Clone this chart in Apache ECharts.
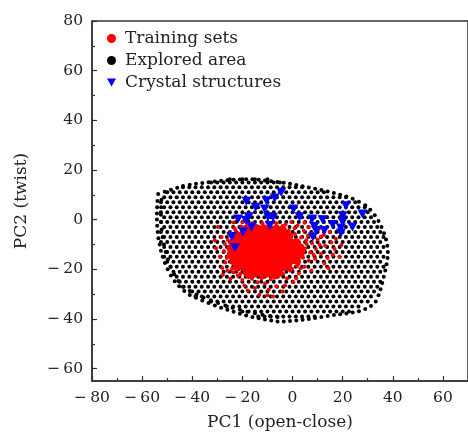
<!DOCTYPE html>
<html>
<head>
<meta charset="utf-8">
<script src="https://cdn.jsdelivr.net/npm/echarts@6/dist/echarts.min.js"></script>
<style>html,body{margin:0;padding:0;background:#fff;}#c{width:468px;height:436px;}</style>
</head>
<body>
<div id="c"></div>
<script>
// ---- tick values ----
const xTicks = [-80, -60, -40, -20, 0, 20, 40, 60];
const xMinorTicks = [-70, -50, -30, -10, 10, 30, 50];
const yTicks = [-60, -40, -20, 0, 20, 40, 60, 80];
const yMinorTicks = [-50, -30, -10, 10, 30, 50, 70];

// ---- Explored area (black): rows of points [y, [x...]] ----
const exploredRows = [
  [16.3, [-25, -20, -15, -10]],
  [15, [-32.5,-30,-27.5,-25,-22.5,-20,-17.5,-15,-12.5,-10,-7.5,-5]],
  [13, [-43.7,-41.2,-38.7,-36.2,-33.7,-31.2,-28.7,-26.2,-23.7,-21.2,-18.7,-16.2,-13.7,-11.2,-8.7,-6.2,-3.7,-1.2,1.3,3.8]],
  [11, [-50,-47.5,-45,-42.5,-40,-37.5,-35,-32.5,-30,-27.5,-25,-22.5,-20,-17.5,-15,-12.5,-10,-7.5,-5,-2.5,0,2.5,5,7.5,10,12.5]],
  [9, [-51.2,-48.7,-46.2,-43.7,-41.2,-38.7,-36.2,-33.7,-31.2,-28.7,-26.2,-23.7,-21.2,-18.7,-16.2,-13.7,-11.2,-8.7,-6.2,-3.7,-1.2,1.3,3.8,6.3,8.8,11.3,13.8,16.3,18.8,21.3]],
  [7, [-52.5,-50,-47.5,-45,-42.5,-40,-37.5,-35,-32.5,-30,-27.5,-25,-22.5,-20,-17.5,-15,-12.5,-10,-7.5,-5,-2.5,0,2.5,5,7.5,10,12.5,15,17.5,20,22.5,25]],
  [5, [-51.2,-48.7,-46.2,-43.7,-41.2,-38.7,-36.2,-33.7,-31.2,-28.7,-26.2,-23.7,-21.2,-18.7,-16.2,-13.7,-11.2,-8.7,-6.2,-3.7,-1.2,1.3,3.8,6.3,8.8,11.3,13.8,16.3,18.8,21.3,23.8,26.3,28.8]],
  [3, [-52.5,-50,-47.5,-45,-42.5,-40,-37.5,-35,-32.5,-30,-27.5,-25,-22.5,-20,-17.5,-15,-12.5,-10,-7.5,-5,-2.5,0,2.5,5,7.5,10,12.5,15,17.5,20,22.5,25,27.5,30]],
  [1, [-51.2,-48.7,-46.2,-43.7,-41.2,-38.7,-36.2,-33.7,-31.2,-28.7,-26.2,-23.7,-21.2,-18.7,-16.2,-13.7,-11.2,-8.7,-6.2,-3.7,-1.2,1.3,3.8,6.3,8.8,11.3,13.8,16.3,18.8,21.3,23.8,26.3,28.8,31.3]],
  [-1, [-52.5,-50,-47.5,-45,-42.5,-40,-37.5,-35,-32.5,-30,-27.5,-25,-22.5,-20,-17.5,-15,-12.5,-10,-7.5,-5,-2.5,0,2.5,5,7.5,10,12.5,15,17.5,20,22.5,25,27.5,30,32.5]],
  [-3, [-51.2,-48.7,-46.2,-43.7,-41.2,-38.7,-36.2,-33.7,-31.2,-28.7,-26.2,-23.7,-21.2,-18.7,-16.2,-13.7,-11.2,-8.7,-6.2,-3.7,-1.2,1.3,3.8,6.3,8.8,11.3,13.8,16.3,18.8,21.3,23.8,26.3,28.8,31.3,33.8]],
  [-5, [-52.5,-50,-47.5,-45,-42.5,-40,-37.5,-35,-32.5,-30,-27.5,-25,-22.5,-20,-2.5,0,2.5,5,7.5,10,12.5,15,17.5,20,22.5,25,27.5,30,32.5,35]],
  [-7, [-51.2,-48.7,-46.2,-43.7,-41.2,-38.7,-36.2,-33.7,-31.2,-28.7,-26.2,-23.7,1.3,3.8,6.3,8.8,11.3,13.8,16.3,18.8,21.3,23.8,26.3,28.8,31.3,33.8,36.3]],
  [-9, [-52.5,-50,-47.5,-45,-42.5,-40,-37.5,-35,-32.5,-30,-27.5,-25,2.5,5,7.5,10,12.5,15,17.5,20,22.5,25,27.5,30,32.5,35]],
  [-11, [-51.2,-48.7,-46.2,-43.7,-41.2,-38.7,-36.2,-33.7,-31.2,-28.7,-26.2,3.8,6.3,8.8,11.3,13.8,16.3,18.8,21.3,23.8,26.3,28.8,31.3,33.8,36.3]],
  [-13, [-50,-47.5,-45,-42.5,-40,-37.5,-35,-32.5,-30,-27.5,5,7.5,10,12.5,15,17.5,20,22.5,25,27.5,30,32.5,35]],
  [-15, [-51.2,-48.7,-46.2,-43.7,-41.2,-38.7,-36.2,-33.7,-31.2,-28.7,-26.2,3.8,6.3,8.8,11.3,13.8,16.3,18.8,21.3,23.8,26.3,28.8,31.3,33.8,36.3]],
  [-17, [-50,-47.5,-45,-42.5,-40,-37.5,-35,-32.5,-30,-27.5,-25,2.5,5,7.5,10,12.5,15,17.5,20,22.5,25,27.5,30,32.5,35]],
  [-19, [-48.7,-46.2,-43.7,-41.2,-38.7,-36.2,-33.7,-31.2,-28.7,-26.2,-23.7,1.3,3.8,6.3,8.8,11.3,13.8,16.3,18.8,21.3,23.8,26.3,28.8,31.3,33.8,36.3]],
  [-21, [-47.5,-45,-42.5,-40,-37.5,-35,-32.5,-30,-27.5,-25,-22.5,-20,-2.5,0,2.5,5,7.5,10,12.5,15,17.5,20,22.5,25,27.5,30,32.5,35]],
  [-23, [-46.2,-43.7,-41.2,-38.7,-36.2,-33.7,-31.2,-28.7,-26.2,-23.7,-21.2,-18.7,-16.2,-13.7,-11.2,-8.7,-6.2,-3.7,-1.2,1.3,3.8,6.3,8.8,11.3,13.8,16.3,18.8,21.3,23.8,26.3,28.8,31.3,33.8]],
  [-25, [-45,-42.5,-40,-37.5,-35,-32.5,-30,-27.5,-25,-22.5,-20,-17.5,-15,-12.5,-10,-7.5,-5,-2.5,0,2.5,5,7.5,10,12.5,15,17.5,20,22.5,25,27.5,30,32.5,35]],
  [-27, [-43.7,-41.2,-38.7,-36.2,-33.7,-31.2,-28.7,-26.2,-23.7,-21.2,-18.7,-16.2,-13.7,-11.2,-8.7,-6.2,-3.7,-1.2,1.3,3.8,6.3,8.8,11.3,13.8,16.3,18.8,21.3,23.8,26.3,28.8,31.3,33.8]],
  [-29, [-40,-37.5,-35,-32.5,-30,-27.5,-25,-22.5,-20,-17.5,-15,-12.5,-10,-7.5,-5,-2.5,0,2.5,5,7.5,10,12.5,15,17.5,20,22.5,25,27.5,30,32.5]],
  [-31, [-38.7,-36.2,-33.7,-31.2,-28.7,-26.2,-23.7,-21.2,-18.7,-16.2,-13.7,-11.2,-8.7,-6.2,-3.7,-1.2,1.3,3.8,6.3,8.8,11.3,13.8,16.3,18.8,21.3,23.8,26.3,28.8,31.3]],
  [-33, [-32.5,-30,-27.5,-25,-22.5,-20,-17.5,-15,-12.5,-10,-7.5,-5,-2.5,0,2.5,5,7.5,10,12.5,15,17.5,20,22.5,25,27.5,30]],
  [-35, [-26.2,-23.7,-21.2,-18.7,-16.2,-13.7,-11.2,-8.7,-6.2,-3.7,-1.2,1.3,3.8,6.3,8.8,11.3,13.8,16.3,18.8,21.3,23.8,26.3]],
  [-37, [-20,-17.5,-15,-12.5,-10,-7.5,-5,-2.5,0,2.5,5,7.5,10,12.5,15,17.5,20,22.5]],
  [-39, [-13.7,-11.2,-8.7,-6.2,-3.7,-1.2,1.3,3.8,6.3,8.8]]
];

// outer rim of the explored area
const exploredRim = [
  [-53.6,10.3],[-51,11.2],[-48.5,12],[-46,12.8],[-43.7,13.5],[-41,14],[-38.5,14.4],[-36,14.8],[-33.5,15.1],[-31,15.4],[-28.5,15.7],[-26,15.9],[-23.5,16.1],[-21,16.2],[-18.5,16.3],[-16,16.3],[-13.5,16.1],[-11,15.8],[-8.5,15.5],[-6,15.2],[-3.5,14.9],[-1,14.4],[1.5,13.9],[4,13.4],[6.5,12.9],[9,12.4],[11.5,11.9],[14,11.3],[16.5,10.7],[19,10],[21.5,9.3],[24,8.4],[26.5,7.2],[29,5.8],[31,4],[32.8,1.8],[34.3,-0.6],[35.5,-3],[36.5,-5.5],[37.3,-8],[37.8,-10.5],[38,-13],[37.9,-15.5],[37.5,-18],[37,-20.5],[36.4,-23],[35.8,-25.5],[35.1,-28],[34.3,-30.5],[33.2,-33],[31.3,-34.8],[29,-36],[26.5,-36.9],[24,-37.4],[21.5,-37.8],[19,-38.1],[16.5,-38.4],[14,-38.8],[11.5,-39.2],[9,-39.6],[6.5,-40],[4,-40.3],[1.5,-40.6],[-1,-40.8],[-3.5,-41],[-6,-41],[-8.5,-40.6],[-11,-40.2],[-13.5,-39.7],[-16,-39.2],[-18.5,-38.6],[-21,-37.9],[-23.5,-37.1],[-26,-36.3],[-28.5,-35.5],[-31,-34.6],[-33.5,-33.6],[-36,-32.6],[-38.5,-31.5],[-41,-30.4],[-43.2,-28.7],[-45.2,-26.8],[-47,-24.8],[-48.5,-22.5],[-49.8,-20],[-50.9,-17.5],[-51.8,-15],[-52.5,-12.5],[-53,-10],[-53.5,-7.5],[-53.8,-5],[-54,-2.5],[-54.1,0],[-54.1,2.5],[-54,5],[-53.9,7.5]
];
// inner rim on the lower-left side
const exploredInnerRim = [
  [-52.3,8],[-52.4,5],[-52.5,2],[-52.4,-1],[-52.2,-4],[-51.8,-7],[-51.3,-10],[-50.6,-13],[-49.7,-16],[-48.6,-19],[-47.2,-22],[-45.5,-24.7],[-43.4,-27],[-41,-28.8],[-38.3,-30.2],[-35.5,-31.4],[-32.6,-32.5],[-29.7,-33.6],[-26.8,-34.6],[-23.9,-35.5],[-21,-36.3],[-18,-37.1],[-15,-37.7],[-12,-38.3],[-9,-38.8],[-6,-39.2]
];

// ---- Training sets (red): dense core + scattered halo ----
const trainingCore = [
  [-19,-4.2],[-16.5,-3.8],[-14,-4.1],[-11.5,-3.7],[-9,-4],[-6.5,-3.9],[-4,-4.3],
  [-21.5,-6.6],[-19,-6.3],[-16.5,-6.6],[-14,-6.4],[-11.5,-6.6],[-9,-6.3],[-6.5,-6.5],[-4,-6.4],[-1.5,-6.7],
  [-23.5,-9.1],[-21,-8.9],[-18.5,-9.2],[-16,-8.9],[-13.5,-9],[-11,-9.2],[-8.5,-8.9],[-6,-9.1],[-3.5,-8.8],[-1,-9.1],[1.5,-9.3],
  [-24.5,-11.6],[-22,-11.4],[-19.5,-11.6],[-17,-11.4],[-14.5,-11.5],[-12,-11.6],[-9.5,-11.4],[-7,-11.6],[-4.5,-11.4],[-2,-11.6],[0.5,-11.5],[3,-11.3],
  [-24.5,-14.1],[-22,-13.9],[-19.5,-14.1],[-17,-13.9],[-14.5,-14],[-12,-14.1],[-9.5,-13.9],[-7,-14.1],[-4.5,-13.9],[-2,-14],[0.5,-14.2],[3,-13.8],
  [-23.5,-16.6],[-21,-16.4],[-18.5,-16.6],[-16,-16.4],[-13.5,-16.5],[-11,-16.6],[-8.5,-16.4],[-6,-16.6],[-3.5,-16.4],[-1,-16.6],[1.5,-16.3],
  [-22,-19.1],[-19.5,-18.9],[-17,-19.1],[-14.5,-18.9],[-12,-19],[-9.5,-19.1],[-7,-18.9],[-4.5,-19.1],[-2,-18.8],
  [-18,-21.4],[-15.5,-21.6],[-13,-21.4],[-10.5,-21.6],[-8,-21.5],[-5.5,-21.3]
];
const trainingHalo = [
  [-20.5,-2.8],[-17.8,-1.8],[-14.5,-2.5],[-12,-1.5],[-9.5,-2.2],[-6.5,-1.5],[-4,-2.6],[-0.5,-1],[2,-2.4],[4.8,-1.3],[-22.8,-4.2],[-1.5,-4.5],[1,-5.8],[-23.5,-1.2],
  [-29.8,-3],[-28.3,-7],[-27,-9.8],[-29,-15],[-27.4,-12.6],[-26.8,-17.3],[-28,-19.5],[-26,-20.6],[-25.5,-5.5],[-30.5,-11.5],
  [4.5,-4.5],[6.5,-3],[8,-5.6],[10.5,-3.8],[12.5,-6.2],[14.8,-5],[17.3,-7.7],[18.7,-4.3],[5.5,-8.3],[7.8,-9.5],[10,-8],[13,-10.5],[15.5,-9.2],[11.4,-13.7],[5,-11.6],[7,-13.2],[9.3,-11.8],[4.2,-15.4],[6.5,-16.6],[9,-15.8],[12.7,-17.7],[16,-14],[18.7,-15],[14.3,-19.6],[4.8,-19],[7.5,-20.5],[2.5,-21.7],[16.8,-11.8],[19.5,-10.2],
  [-21.8,-22.5],[-20,-24.3],[-17.9,-28.5],[-16.2,-23.8],[-14,-25.2],[-11,-25.7],[-8.7,-24],[-6.5,-26.8],[-4,-29],[-2.2,-23.7],[0.3,-25.2],[-13.2,-30.3],[-9.5,-28.1],[-19.2,-26.5],[-23.6,-21.2],[-1,-20.5],[1.8,-18.7],[-5.8,-23],[-15,-27.5],[-7.8,-31],[-24.8,-23.8],
  [-25.8,-8.2],[-26.2,-15.5],[-24.2,-19.8],[-20.8,-21.8],[-23.2,-3.4],[-17.5,-23.2],[-12.3,-23.6],[-7.2,-23.4],[-3.8,-21.8],[-0.2,-19.8],[2.4,-17.8],[4.5,-13],[5.6,-9.8],[3.4,-7.2],[0.8,-3.5],[-2.8,-2],[-8,-1.2],[-15.8,-1.4],[-19.8,-1],[6.2,-6.4],[8.4,-14.1],[10.8,-10.1],[3.2,-19.6],[-10,-30.5],[-3,-26.5],[1.5,-23.6],[11.5,-6.8],[14,-15.5],[-27.8,-22.2],[-31,-8.4]
];

// ---- Crystal structures (blue triangles) ----
const crystalStructures = [
  [-18.4,7.4],[-14.7,5],[-10.4,7.6],[-7.1,8.7],[-4.5,11],[-11.1,4.3],[-21.7,0.3],[-17.5,1.2],[-18.6,-0.4],
  [-9.8,1.2],[-7.8,1],[-16.4,-3],[-9.1,-2.4],[-19.7,-5],[-24.3,-6.8],[-23,-11.3],
  [0.4,4.3],[2.8,1.2],[7.8,0.3],[12,-0.1],[8.7,-2.8],[12.7,-4.4],[8.1,-7],[9.4,-4.4],[16,-2],
  [21.3,5.6],[20,1.6],[20,-1],[19.3,-3.4],[19.3,-5.4],[23.9,-3],[27.9,2.3]
];

const explored = [];
exploredRows.forEach(function (r) { r[1].forEach(function (x) { explored.push([x, r[0]]); }); });
exploredRim.forEach(function (p) { explored.push(p); });
exploredInnerRim.forEach(function (p) { explored.push(p); });

const FONT = 'DejaVu Serif';
const TXT = '#222';
const fmt = function (v) { return v < 0 ? '\u2212\u2009' + Math.abs(v) : String(v); };

const chart = echarts.init(document.getElementById('c'), null, {renderer: 'canvas'});
chart.setOption({
  animation: false,
  backgroundColor: '#fff',
  grid: {left: 92, top: 21, right: -2, bottom: 53, show: true, borderColor: '#333', borderWidth: 1.5, backgroundColor: 'transparent'},
  legend: {
    orient: 'vertical', left: 102, top: 25, itemWidth: 9, itemHeight: 9, itemGap: 5,
    textStyle: {fontFamily: FONT, fontSize: 17, color: TXT, padding: [0, 0, 0, 4]},
    data: [
      {name: 'Training sets', icon: 'circle'},
      {name: 'Explored area', icon: 'circle'},
      {name: 'Crystal structures', icon: 'path://M0,0L10,0L5,9Z'}
    ]
  },
  xAxis: [
    {
      type: 'value', min: -80, max: 70, position: 'bottom', splitLine: {show: false},
      axisLine: {show: true, onZero: false, lineStyle: {color: '#333', width: 1.5}},
      name: 'PC1 (open-close)', nameLocation: 'middle', nameGap: 33,
      nameTextStyle: {fontFamily: FONT, fontSize: 17, color: TXT},
      axisTick: {show: true, inside: true, length: 5, customValues: xTicks, lineStyle: {color: '#333', width: 1.2}},
      axisLabel: {show: true, customValues: xTicks, formatter: fmt, margin: 9, fontFamily: FONT, fontSize: 15.5, color: TXT}
    },
    {
      type: 'value', min: -80, max: 70, position: 'bottom', offset: 0, splitLine: {show: false},
      axisLine: {show: false, onZero: false},
      axisTick: {show: true, inside: true, length: 3, customValues: xMinorTicks, lineStyle: {color: '#333', width: 1.2}},
      axisLabel: {show: false}
    }
  ],
  yAxis: [
    {
      type: 'value', min: -65, max: 80, position: 'left', splitLine: {show: false},
      axisLine: {show: true, onZero: false, lineStyle: {color: '#333', width: 1.5}},
      name: 'PC2 (twist)', nameLocation: 'middle', nameGap: 62,
      nameTextStyle: {fontFamily: FONT, fontSize: 17, color: TXT},
      axisTick: {show: true, inside: true, length: 5, customValues: yTicks, lineStyle: {color: '#333', width: 1.2}},
      axisLabel: {show: true, customValues: yTicks, formatter: fmt, margin: 9, fontFamily: FONT, fontSize: 15.5, color: TXT}
    },
    {
      type: 'value', min: -65, max: 80, position: 'left', offset: 0, splitLine: {show: false},
      axisLine: {show: false, onZero: false},
      axisTick: {show: true, inside: true, length: 3, customValues: yMinorTicks, lineStyle: {color: '#333', width: 1.2}},
      axisLabel: {show: false}
    }
  ],
  series: [
    {name: 'Explored area', type: 'scatter', data: explored, symbol: 'circle', symbolSize: 4,
     itemStyle: {color: '#000', opacity: 1}, emphasis: {disabled: true}, xAxisIndex: 0, yAxisIndex: 0},
    {name: 'Training sets', type: 'scatter', data: trainingCore, symbol: 'circle', symbolSize: 9,
     itemStyle: {color: '#ff0000', opacity: 1}, emphasis: {disabled: true}, xAxisIndex: 0, yAxisIndex: 0},
    {name: 'Training sets', type: 'scatter', data: trainingHalo, symbol: 'circle', symbolSize: 4,
     itemStyle: {color: '#ff0000', opacity: 1}, emphasis: {disabled: true}, xAxisIndex: 0, yAxisIndex: 0},
    {name: 'Crystal structures', type: 'scatter', data: crystalStructures, symbol: 'triangle', symbolRotate: 180, symbolSize: [10, 9],
     itemStyle: {color: '#0000ff', opacity: 1}, emphasis: {disabled: true}, xAxisIndex: 0, yAxisIndex: 0}
  ]
});
</script>
</body>
</html>
